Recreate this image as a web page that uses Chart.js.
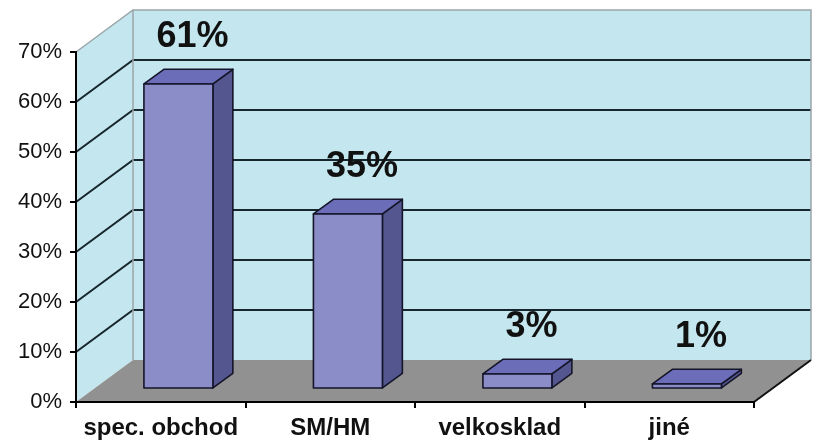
<!DOCTYPE html>
<html lang="cs">
<head>
<meta charset="UTF-8">
<title>Místo nákupu</title>
<script src="https://cdn.jsdelivr.net/npm/chart.js"></script>
<style>
  html, body { margin: 0; padding: 0; background: #fff; }
  #wrap { width: 824px; height: 446px; }
</style>
</head>
<body>
<div id="wrap"><canvas id="chart" width="824" height="446"></canvas></div>
<script>
const categories = ['spec. obchod', 'SM/HM', 'velkosklad', 'jiné'];
const shares = [61, 35, 3, 1];
const yTicks = [0, 10, 20, 30, 40, 50, 60, 70];

// 3D look: offset of the back wall, bars sit between front and back fraction
const depth = { dx: 57, dy: 42, front: 0.31, back: 0.66 };
const FONT = '"Liberation Sans", Arial, sans-serif';

function poly(ctx, pts) {
  ctx.beginPath();
  ctx.moveTo(pts[0][0], pts[0][1]);
  for (let i = 1; i < pts.length; i++) ctx.lineTo(pts[i][0], pts[i][1]);
  ctx.closePath();
}

const box3d = {
  id: 'box3d',
  beforeDraw(chart) {
    const { ctx, chartArea: a, scales: { y } } = chart;
    const { dx, dy } = depth;
    ctx.save();
    // back wall + side wall
    ctx.fillStyle = '#c4e6ee';
    ctx.fillRect(a.left + dx, a.top - dy, a.width, a.height);
    poly(ctx, [[a.left, a.top], [a.left + dx, a.top - dy], [a.left + dx, a.bottom - dy], [a.left, a.bottom]]);
    ctx.fill();
    // floor
    ctx.fillStyle = '#919191';
    poly(ctx, [[a.left, a.bottom], [a.left + dx, a.bottom - dy], [a.right + dx, a.bottom - dy], [a.right, a.bottom]]);
    ctx.fill();
    // grid lines on side and back wall
    ctx.strokeStyle = '#17262c';
    ctx.lineWidth = 2;
    yTicks.slice(1, -1).forEach(v => {
      const yy = y.getPixelForValue(v);
      ctx.beginPath();
      ctx.moveTo(a.left, yy);
      ctx.lineTo(a.left + dx, yy - dy);
      ctx.lineTo(a.right + dx, yy - dy);
      ctx.stroke();
    });
    // wall outlines
    ctx.strokeStyle = '#9aa5a8';
    ctx.lineWidth = 1.5;
    ctx.beginPath();
    ctx.moveTo(a.left, a.top);
    ctx.lineTo(a.left + dx, a.top - dy);
    ctx.lineTo(a.right + dx, a.top - dy);
    ctx.lineTo(a.right + dx, a.bottom - dy);
    ctx.moveTo(a.left + dx, a.top - dy);
    ctx.lineTo(a.left + dx, a.bottom - dy);
    ctx.stroke();
    // floor right edge
    ctx.strokeStyle = '#111';
    ctx.lineWidth = 2;
    ctx.beginPath();
    ctx.moveTo(a.right, a.bottom);
    ctx.lineTo(a.right + dx, a.bottom - dy);
    ctx.stroke();
    ctx.restore();
  },
  beforeDatasetsDraw(chart) {
    const { ctx } = chart;
    const ox = depth.dx * depth.front, oy = depth.dy * depth.front;
    const bx = depth.dx * (depth.back - depth.front), by = depth.dy * (depth.back - depth.front);
    ctx.save();
    ctx.lineWidth = 1.6;
    ctx.strokeStyle = '#15152a';
    ctx.lineJoin = 'round';
    chart.getDatasetMeta(0).data.forEach(bar => {
      const { x, y, base, width } = bar.getProps(['x', 'y', 'base', 'width'], true);
      const l = x - width / 2 + ox, r = x + width / 2 + ox, t = y - oy, b = base - oy;
      ctx.fillStyle = '#54568f';
      poly(ctx, [[r, b], [r, t], [r + bx, t - by], [r + bx, b - by]]);
      ctx.fill(); ctx.stroke();
      ctx.fillStyle = '#6b6db8';
      poly(ctx, [[l, t], [r, t], [r + bx, t - by], [l + bx, t - by]]);
      ctx.fill(); ctx.stroke();
      ctx.fillStyle = '#8b8dc9';
      poly(ctx, [[l, t], [r, t], [r, b], [l, b]]);
      ctx.fill(); ctx.stroke();
    });
    ctx.restore();
    return false;
  },
  afterDraw(chart) {
    const { ctx } = chart;
    const ox = depth.dx * depth.front, oy = depth.dy * depth.front;
    ctx.save();
    ctx.font = 'bold 36px ' + FONT;
    ctx.fillStyle = '#111';
    ctx.textAlign = 'center';
    ctx.textBaseline = 'middle';
    chart.getDatasetMeta(0).data.forEach((bar, i) => {
      ctx.fillText(shares[i] + '%', bar.x + ox + 14, bar.y - oy - 47);
    });
    ctx.restore();
  }
};

new Chart(document.getElementById('chart').getContext('2d'), {
  type: 'bar',
  data: {
    labels: categories,
    datasets: [{
      data: shares,
      backgroundColor: '#8b8dc9',
      categoryPercentage: 1,
      barPercentage: 0.407
    }]
  },
  options: {
    responsive: false,
    animation: false,
    devicePixelRatio: 1,
    layout: { padding: { top: 52, right: 70, left: 0, bottom: 0 } },
    plugins: { legend: { display: false }, tooltip: { enabled: false } },
    scales: {
      x: {
        afterFit: s => { s.height = 44; },
        grid: { drawOnChartArea: false, drawTicks: true, tickLength: 6, color: '#000', lineWidth: 2 },
        border: { display: true, color: '#000', width: 2 },
        ticks: { color: '#111', padding: 6, font: { family: FONT, size: 24, weight: 'bold' } }
      },
      y: {
        min: 0,
        max: 70,
        afterFit: s => { s.width = 76; },
        afterBuildTicks: s => { s.ticks = yTicks.map(v => ({ value: v })); },
        grid: { drawOnChartArea: false, drawTicks: true, tickLength: 6, color: '#000', lineWidth: 2 },
        border: { display: true, color: '#000', width: 2 },
        ticks: { color: '#111', padding: 8, font: { family: FONT, size: 22 }, callback: v => v + '%' }
      }
    }
  },
  plugins: [box3d]
});
</script>
</body>
</html>
